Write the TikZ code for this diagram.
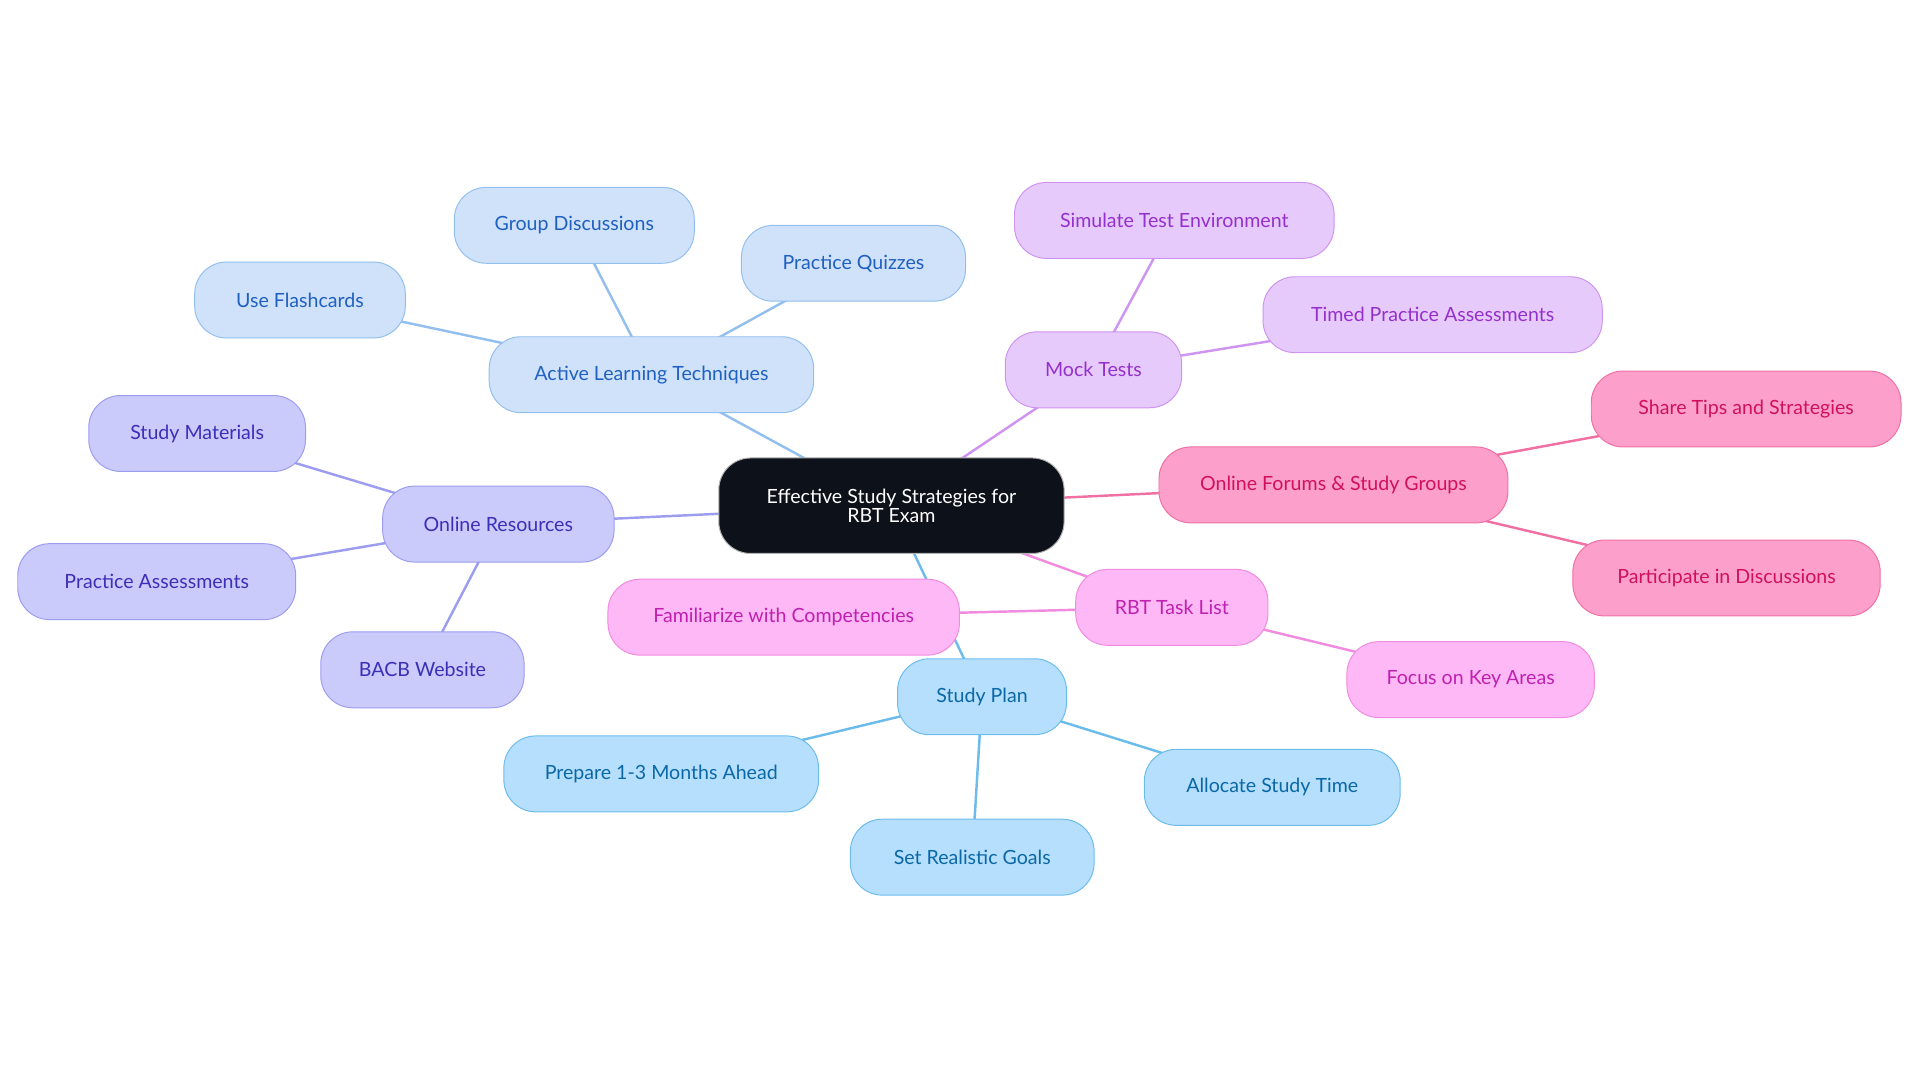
\documentclass[tikz,border=0pt]{standalone}
\usepackage{fontspec}
\setmainfont{Lato}
\usetikzlibrary{backgrounds}
\definecolor{cB}{HTML}{CFE2FA}\definecolor{dB}{HTML}{92BFEE}\definecolor{tB}{HTML}{2060C0}
\definecolor{cV}{HTML}{CACBFB}\definecolor{dV}{HTML}{9C9CF0}\definecolor{tV}{HTML}{3A30B8}
\definecolor{cS}{HTML}{B5DFFD}\definecolor{dS}{HTML}{6CBCEB}\definecolor{tS}{HTML}{0B68A6}
\definecolor{cP}{HTML}{FDB8F5}\definecolor{dP}{HTML}{F08BE0}\definecolor{tP}{HTML}{C020B0}
\definecolor{cH}{HTML}{FCA0CB}\definecolor{dH}{HTML}{F070A4}\definecolor{tH}{HTML}{D0105E}
\definecolor{cL}{HTML}{E7CAFC}\definecolor{dL}{HTML}{CE94F0}\definecolor{tL}{HTML}{9430CC}
\definecolor{cC}{HTML}{0D1119}
\tikzset{
 pill/.style={rounded corners=26pt,minimum height=62pt,inner xsep=0pt,font=\fontsize{16}{18}\selectfont,line width=0.8pt},
 bl/.style={pill,fill=cB,draw=dB,text=tB},
 vi/.style={pill,fill=cV,draw=dV,text=tV},
 sk/.style={pill,fill=cS,draw=dS,text=tS},
 pk/.style={pill,fill=cP,draw=dP,text=tP},
 hp/.style={pill,fill=cH,draw=dH,text=tH},
 lv/.style={pill,fill=cL,draw=dL,text=tL},
 ed/.style={line width=2pt}
}
\begin{document}
\begin{tikzpicture}[x=1pt,y=-1pt]
\useasboundingbox (0,0) rectangle (1568,884);
\node[pill,fill=cC,draw=gray!60,text=white,minimum width=282pt,minimum height=78pt,align=center] (c) at (728,413) {Effective Study Strategies for\\[-2pt]RBT Exam};
\node[bl,minimum width=265pt] (alt) at (532,306) {Active Learning Techniques};
\node[bl,minimum width=196pt] (gd) at (469,184) {Group Discussions};
\node[bl,minimum width=183pt] (pq) at (697,215) {Practice Quizzes};
\node[bl,minimum width=172pt] (uf) at (245,245) {Use Flashcards};
\node[vi,minimum width=189pt] (or) at (407,428) {Online Resources};
\node[vi,minimum width=177pt] (sm) at (161,354) {Study Materials};
\node[vi,minimum width=227pt] (pa) at (128,475) {Practice Assessments};
\node[vi,minimum width=166pt] (bw) at (345,547) {BACB Website};
\node[sk,minimum width=138pt] (sp) at (802,569) {Study Plan};
\node[sk,minimum width=257pt] (p13) at (540,632) {Prepare 1-3 Months Ahead};
\node[sk,minimum width=199pt] (srg) at (794,700) {Set Realistic Goals};
\node[sk,minimum width=209pt] (ast) at (1039,643) {Allocate Study Time};
\node[pk,minimum width=157pt] (rtl) at (957,496) {RBT Task List};
\node[pk,minimum width=287pt] (fc) at (640,504) {Familiarize with Competencies};
\node[pk,minimum width=202pt] (fk) at (1201,555) {Focus on Key Areas};
\node[hp,minimum width=285pt] (of) at (1089,396) {Online Forums \& Study Groups};
\node[hp,minimum width=253pt] (st) at (1426,334) {Share Tips and Strategies};
\node[hp,minimum width=251pt] (pd) at (1410,472) {Participate in Discussions};
\node[lv,minimum width=144pt] (mt) at (893,302) {Mock Tests};
\node[lv,minimum width=261pt] (ste) at (959,180) {Simulate Test Environment};
\node[lv,minimum width=277pt] (tpa) at (1170,257) {Timed Practice Assessments};
\begin{pgfonlayer}{background}
\draw[ed,dB] (c.center)--(alt.center) (alt.center)--(gd.center) (alt.center)--(pq.center) (alt.center)--(uf.center);
\draw[ed,dV] (c.center)--(or.center) (or.center)--(sm.center) (or.center)--(pa.center) (or.center)--(bw.center);
\draw[ed,dS] (c.center)--(sp.center) (sp.center)--(p13.center) (sp.center)--(srg.center) (sp.center)--(ast.center);
\draw[ed,dP] (c.center)--(rtl.center) (rtl.center)--(fc.center) (rtl.center)--(fk.center);
\draw[ed,dH] (c.center)--(of.center) (of.center)--(st.center) (of.center)--(pd.center);
\draw[ed,dL] (c.center)--(mt.center) (mt.center)--(ste.center) (mt.center)--(tpa.center);
\end{pgfonlayer}
\end{tikzpicture}
\end{document}
